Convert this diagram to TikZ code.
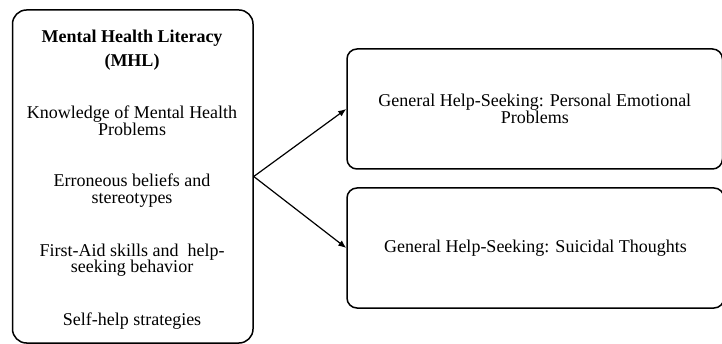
\documentclass[tikz,border=0pt]{standalone}
\usepackage{fontspec}
\setmainfont{Liberation Serif}
\usetikzlibrary{arrows.meta}

\begin{document}
\begin{tikzpicture}[x=1pt,y=-1pt,line width=1.5pt,>={Latex[length=8pt,width=6.5pt]},
  every node/.style={font=\fontsize{18}{16.5}\selectfont,align=center,inner sep=0pt}]
  \useasboundingbox (0,0) rectangle (722,344);
  % caja izquierda (MHL)
  \node[draw,rounded corners=14pt,minimum width=240.5pt,minimum height=333pt] (mhl) at (132.75,176.5) {};
  \node[anchor=base,font=\fontsize{18}{24}\selectfont\bfseries] (head) at (132,66.7) {Mental Health Literacy\\(MHL)};
  \node[anchor=base] (know) at (132,135.5) {Knowledge of Mental Health\\Problems};
  \node[anchor=base] (err) at (132,203.3) {Erroneous beliefs and\\stereotypes};
  \node[anchor=base] (aid) at (132,273) {First-Aid skills and\ \ help-\\seeking behavior};
  \node[anchor=base] (self) at (132,325) {Self-help strategies};
  % cajas derechas
  \node[draw,rounded corners=10pt,minimum width=375.5pt,minimum height=120pt] (emo) at (534.75,109)
    {General Help-Seeking: Personal Emotional\\Problems};
  \node[draw,rounded corners=10pt,minimum width=377pt,minimum height=120pt] (sui) at (535.5,248)
    {General Help-Seeking: Suicidal Thoughts};
  % flechas
  \draw[->,line width=1.2pt] (mhl.east) -- (emo.west);
  \draw[->,line width=1.2pt] (mhl.east) -- (sui.west);
\end{tikzpicture}
\end{document}
